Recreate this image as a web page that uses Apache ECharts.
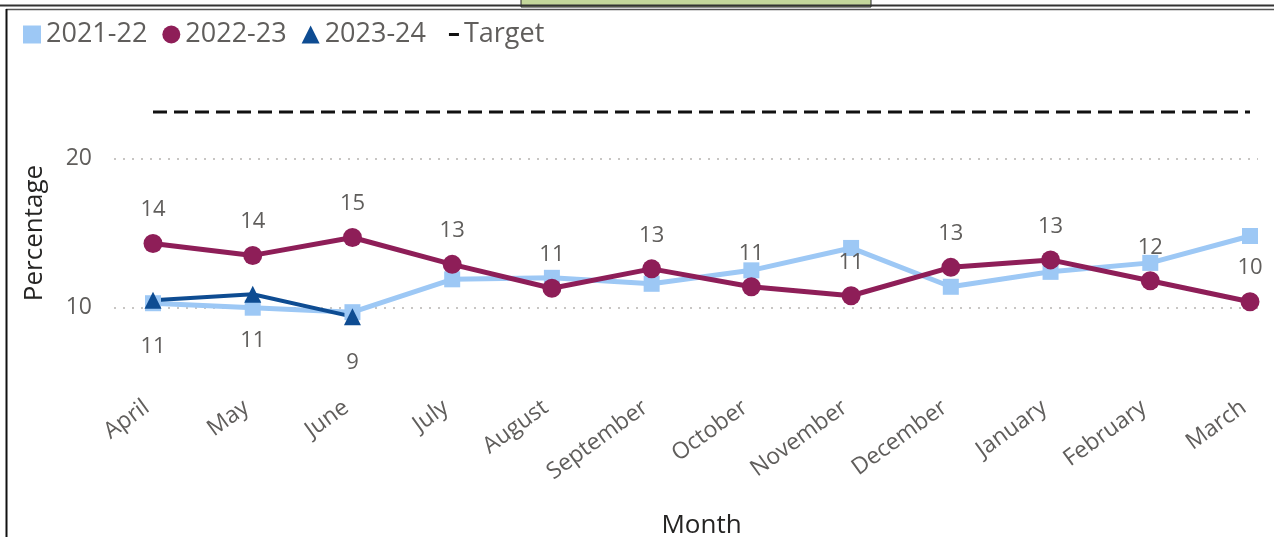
<!DOCTYPE html>
<html>
<head>
<meta charset="utf-8">
<script src="https://cdn.jsdelivr.net/npm/echarts@6/dist/echarts.min.js"></script>
<style>
  html, body { margin: 0; padding: 0; background: #fff; }
  #chart { width: 1274px; height: 537px; }
</style>
</head>
<body>
<div id="chart"></div>
<script>
// data
const months = ['April', 'May', 'June', 'July', 'August', 'September', 'October',
  'November', 'December', 'January', 'February', 'March'];
const fy2122 = [10.3, 10.0, 9.7, 11.9, 12.0, 11.6, 12.5, 14.0, 11.4, 12.4, 13.0, 14.8];
const fy2223 = [14.3, 13.5, 14.7, 12.9, 11.3, 12.6, 11.4, 10.8, 12.7, 13.2, 11.8, 10.4];
const fy2324 = [10.5, 10.9, 9.4];
const targetValues = [23.1, 23.1, 23.1, 23.1, 23.1, 23.1, 23.1, 23.1, 23.1, 23.1, 23.1, 23.1];
const yShown = [10, 20];

const FONT = "'Segoe UI', 'Open Sans', sans-serif";
const GREY = '#605E5C';

const chart = echarts.init(document.getElementById('chart'));

const option = {
  animation: false,
  textStyle: { fontFamily: FONT },
  legend: {
    left: 18,
    top: 16,
    itemWidth: 18,
    itemHeight: 18,
    itemGap: 15,
    textStyle: { fontSize: 27, color: GREY, fontFamily: FONT },
    data: [
      { name: '2021-22', icon: 'rect' },
      { name: '2022-23', icon: 'circle' },
      { name: '2023-24', icon: 'triangle' },
      { name: 'Target', icon: 'path://M0,0 M18,18 M8,7.5 H18 V10.5 H8 Z' }
    ]
  },
  grid: [
    { left: 153, right: 24, top: 83.6, bottom: 154.6, outerBoundsMode: 'none' },
    // wider grid just for the dotted gridlines / y labels
    { left: 114, right: 16, top: 83.6, bottom: 154.6, outerBoundsMode: 'none' }
  ],
  xAxis: [
    {
      type: 'category',
      gridIndex: 0,
      data: months,
      boundaryGap: false,
      axisLine: { show: false },
      axisTick: { show: false },
      axisLabel: {
        interval: 0,
        rotate: 36,
        margin: 4,
        verticalAlign: 'top',
        padding: [0, 16, 0, 0],
        fontSize: 23,
        color: GREY,
        fontFamily: FONT
      },
      name: 'Month',
      nameLocation: 'middle',
      nameGap: 130,
      nameTextStyle: { fontSize: 26, color: '#252423', fontFamily: FONT }
    },
    { type: 'value', gridIndex: 1, show: false, min: 0, max: 1 }
  ],
  yAxis: [
    { type: 'value', gridIndex: 0, min: 5, max: 25, interval: 5, show: false },
    {
      type: 'value',
      gridIndex: 1,
      min: 5,
      max: 25,
      interval: 5,
      axisLine: { show: false },
      axisTick: { show: false },
      axisLabel: {
        margin: 22,
        fontSize: 23,
        color: GREY,
        fontFamily: FONT,
        formatter: v => (yShown.includes(v) ? String(v) : '')
      },
      splitLine: {
        show: true,
        lineStyle: {
          type: [2, 7],
          width: 2,
          color: ['rgba(0,0,0,0)', '#C8C6C4', 'rgba(0,0,0,0)', '#C8C6C4', 'rgba(0,0,0,0)']
        }
      },
      name: 'Percentage',
      nameLocation: 'middle',
      nameGap: 66,
      nameTextStyle: { fontSize: 26, color: '#252423', fontFamily: FONT }
    }
  ],
  series: [
    {
      name: '2021-22',
      type: 'line',
      data: fy2122,
      symbol: 'rect',
      symbolSize: 16,
      lineStyle: { width: 5, color: '#9DC8F5' },
      itemStyle: { color: '#9DC8F5' }
    },
    {
      name: '2022-23',
      type: 'line',
      data: fy2223,
      symbol: 'circle',
      symbolSize: 19,
      lineStyle: { width: 5, color: '#8E1E58' },
      itemStyle: { color: '#8E1E58' },
      label: {
        show: true,
        position: 'top',
        distance: 13,
        fontSize: 22,
        color: GREY,
        fontFamily: FONT,
        formatter: p => Math.round(p.value)
      }
    },
    {
      name: '2023-24',
      type: 'line',
      data: fy2324,
      symbol: 'triangle',
      symbolSize: 17,
      lineStyle: { width: 4, color: '#0E4C92' },
      itemStyle: { color: '#0E4C92' },
      label: {
        show: true,
        position: 'bottom',
        distance: 27,
        fontSize: 22,
        color: GREY,
        fontFamily: FONT,
        formatter: p => Math.round(p.value)
      }
    },
    {
      name: 'Target',
      type: 'line',
      data: targetValues,
      symbol: 'none',
      lineStyle: { width: 3, color: '#111', type: [14, 7] },
      itemStyle: { color: '#111' }
    }
  ],
  graphic: [
    { type: 'rect', shape: { x: 521, y: -2, width: 350, height: 9 },
      style: { fill: '#C4D79B', stroke: '#222', lineWidth: 1 } },
    { type: 'line', shape: { x1: 0, y1: 5.5, x2: 1274, y2: 5.5 },
      style: { stroke: '#333', lineWidth: 2 } },
    { type: 'line', shape: { x1: 6, y1: 9.5, x2: 1274, y2: 9.5 },
      style: { stroke: '#555', lineWidth: 1.5 } },
    { type: 'line', shape: { x1: 6.5, y1: 9, x2: 6.5, y2: 537 },
      style: { stroke: '#111', lineWidth: 2 } }
  ]
};

chart.setOption(option);
</script>
</body>
</html>
